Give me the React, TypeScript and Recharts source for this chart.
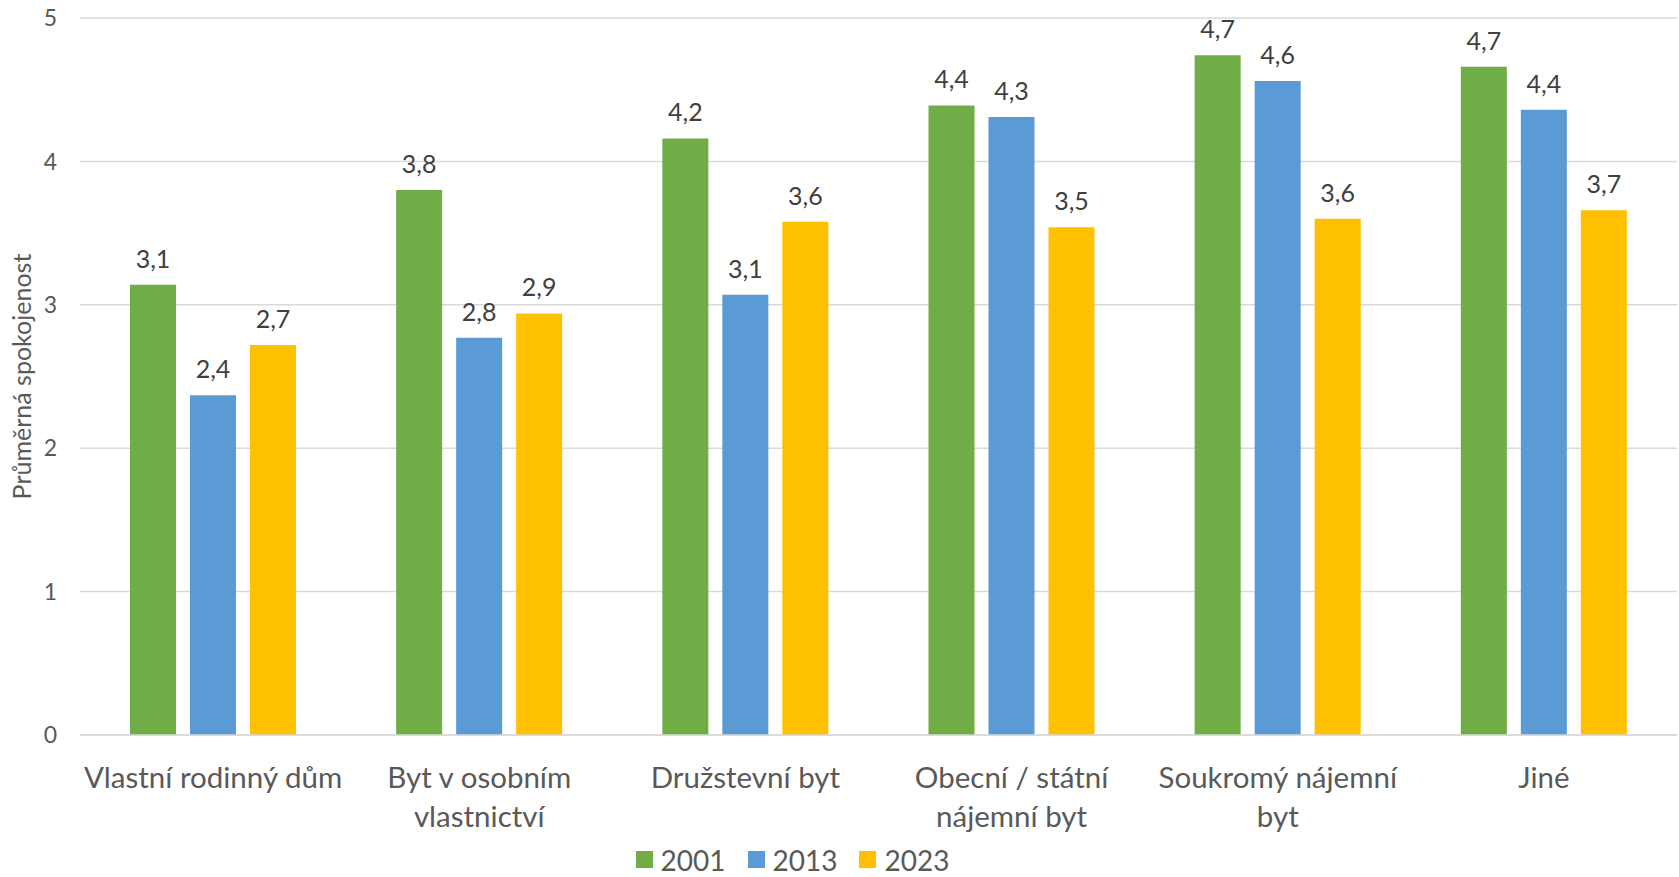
import React from 'react';
import { BarChart, Bar, XAxis, YAxis, CartesianGrid, LabelList, Legend } from 'recharts';

const categories = [
  'Vlastní rodinný dům',
  'Byt v osobním\nvlastnictví',
  'Družstevní byt',
  'Obecní / státní\nnájemní byt',
  'Soukromý nájemní\nbyt',
  'Jiné',
];
const values2001 = [3.14, 3.8, 4.16, 4.39, 4.74, 4.66];
const values2013 = [2.37, 2.77, 3.07, 4.31, 4.56, 4.36];
const values2023 = [2.72, 2.94, 3.58, 3.54, 3.6, 3.66];
const yTicks = [0, 1, 2, 3, 4, 5];
const seriesNames = ['2001', '2013', '2023'];
const seriesColors = ['#70AD47', '#5B9BD5', '#FFC000'];

const data = categories.map((c, i) => ({
  cat: c,
  s2001: values2001[i],
  s2013: values2013[i],
  s2023: values2023[i],
}));

const FONT = 'Lato, "Open Sans", sans-serif';

const fmt = (v: any) => Number(v).toFixed(1).replace('.', ',');

const CatTick = (props: any) => {
  const { x, y, payload } = props;
  const lines = String(payload.value).split('\n');
  return (
    <g>
      {lines.map((l, i) => (
        <text key={i} x={x} y={y + 45 + i * 39} textAnchor="middle" fill="#595959" fontSize={29.5} fontFamily={FONT}>
          {l}
        </text>
      ))}
    </g>
  );
};

const LegendContent = () => (
  <div style={{ display: 'flex', justifyContent: 'center', alignItems: 'center', fontFamily: FONT, fontSize: 28, color: '#595959', height: 35, paddingRight: 92 }}>
    {seriesNames.map((n, i) => (
      <div key={n} style={{ display: 'flex', alignItems: 'center', marginLeft: i === 0 ? 0 : 22 }}>
        <div style={{ width: 17, height: 17, background: seriesColors[i], marginRight: 8 }} />
        <span>{n}</span>
      </div>
    ))}
  </div>
);

export default function App() {
  return (
    <div style={{ position: 'fixed', left: 0, top: 0, width: 1679, height: 877, background: '#ffffff' }}>
      <BarChart
        width={1679}
        height={877}
        data={data}
        margin={{ top: 18, right: 2, left: 0, bottom: 0 }}
        barSize={46}
        barGap={14}
      >
        <CartesianGrid vertical={false} stroke="#d9d9d9" strokeWidth={1.5} />
        <XAxis
          dataKey="cat"
          height={107}
          tickLine={false}
          axisLine={{ stroke: '#d9d9d9', strokeWidth: 1.5 }}
          tick={<CatTick />}
          interval={0}
        />
        <YAxis
          width={80}
          domain={[0, 5]}
          ticks={yTicks}
          tickLine={false}
          axisLine={false}
          tickSize={0}
          tickMargin={23}
          tick={{ fill: '#595959', fontSize: 23, fontFamily: FONT }}
          label={{
            content: (p: any) => {
              const vb = p.viewBox;
              const cx = 21;
              const cy = vb.y + vb.height / 2;
              return (
                <text x={cx} y={cy} transform={`rotate(-90 ${cx} ${cy})`} textAnchor="middle" dominantBaseline="central" fill="#595959" fontSize={25} fontFamily={FONT}>
                  Průměrná spokojenost
                </text>
              );
            },
          }}
        />
        <Legend verticalAlign="bottom" height={35} content={<LegendContent />} />
        {['s2001', 's2013', 's2023'].map((k, i) => (
          <Bar key={k} dataKey={k} name={seriesNames[i]} fill={seriesColors[i]} isAnimationActive={false}>
            <LabelList dataKey={k} position="top" offset={17} formatter={fmt} fill="#404040" fontSize={25} fontFamily={FONT} />
          </Bar>
        ))}
      </BarChart>
    </div>
  );
}
